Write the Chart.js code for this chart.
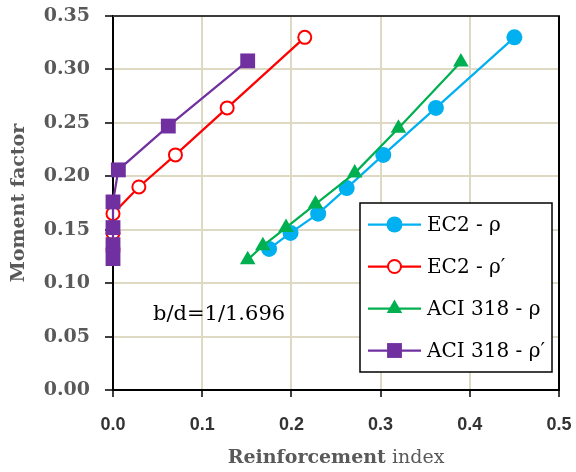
<!DOCTYPE html>
<html><head><meta charset="utf-8">
<script src="https://cdn.jsdelivr.net/npm/chart.js@4/dist/chart.umd.min.js"></script>
<style>html,body{margin:0;padding:0;background:#fff}#wrap{width:576px;height:472px}</style>
</head><body><div id="wrap"><canvas id="c" width="576" height="472"></canvas></div>
<script>
// ---- data ----
const seriesLabels = ['EC2 - ρ', 'EC2 - ρ′', 'ACI 318 - ρ', 'ACI 318 - ρ′'];
const ec2RhoX  = [0.175, 0.199, 0.230, 0.262, 0.303, 0.362, 0.450];
const ec2RhoY  = [0.132, 0.147, 0.165, 0.189, 0.220, 0.264, 0.330];
const ec2RhoPX = [0.000, 0.000, 0.000, 0.029, 0.070, 0.128, 0.215];
const ec2RhoPY = [0.132, 0.147, 0.165, 0.190, 0.220, 0.264, 0.330];
const aciRhoX  = [0.151, 0.168, 0.194, 0.227, 0.271, 0.320, 0.390];
const aciRhoY  = [0.122, 0.135, 0.152, 0.174, 0.203, 0.245, 0.307];
const aciRhoPX = [0.000, 0.000, 0.000, 0.000, 0.006, 0.062, 0.151];
const aciRhoPY = [0.123, 0.136, 0.152, 0.176, 0.206, 0.247, 0.308];
const xTickValues = [0, 0.1, 0.2, 0.3, 0.4, 0.5];
const yTickValues = [0, 0.05, 0.10, 0.15, 0.20, 0.25, 0.30, 0.35];
const noteText = 'b/d=1/1.696';
const xTitleBold = 'Reinforcement';
const xTitleRegular = ' index';
const yTitle = 'Moment factor';

const pts = (xs, ys) => xs.map((x, i) => ({x: x, y: ys[i]}));

const styles = [
  {color:'#00B0F0', fill:'#00B0F0', style:'circle',   radius:8,    bw:0},
  {color:'#FF0000', fill:'#FFFFFF', style:'circle',   radius:6.5,  bw:2},
  {color:'#00B050', fill:'#00B050', style:'triangle', radius:9,    bw:0},
  {color:'#7030A0', fill:'#7030A0', style:'rect',     radius:10.5, bw:0}
];
const seriesData = [pts(ec2RhoX, ec2RhoY), pts(ec2RhoPX, ec2RhoPY), pts(aciRhoX, aciRhoY), pts(aciRhoPX, aciRhoPY)];

const datasets = seriesData.map((d, i) => ({
  label: seriesLabels[i],
  data: d,
  showLine: true,
  borderColor: styles[i].color,
  backgroundColor: styles[i].fill,
  borderWidth: 2.25,
  pointStyle: styles[i].style,
  pointRadius: styles[i].radius,
  pointHoverRadius: styles[i].radius,
  pointBackgroundColor: styles[i].fill,
  pointBorderColor: styles[i].color,
  pointBorderWidth: styles[i].bw,
  order: 4 - i,
  clip: false
}));

const decor = {
  id: 'decor',
  beforeDatasetsDraw(chart) {
    const {ctx, chartArea: a} = chart;
    const xs = chart.scales.x, ys = chart.scales.y;
    ctx.save();
    ctx.lineCap = 'butt';
    // tick marks
    ctx.strokeStyle = '#000'; ctx.lineWidth = 1.5;
    yTickValues.forEach(v => {
      const py = Math.round(ys.getPixelForValue(v));
      ctx.beginPath(); ctx.moveTo(a.left - 8, py); ctx.lineTo(a.left, py); ctx.stroke();
    });
    xTickValues.forEach(v => {
      const px = Math.round(xs.getPixelForValue(v));
      ctx.beginPath(); ctx.moveTo(px, a.bottom); ctx.lineTo(px, a.bottom + 7); ctx.stroke();
    });
    // frame
    ctx.strokeStyle = '#3a3a3a'; ctx.lineWidth = 2;
    ctx.beginPath(); ctx.moveTo(a.left, a.top); ctx.lineTo(a.right + 1, a.top); ctx.stroke();
    ctx.strokeStyle = '#000';
    ctx.beginPath(); ctx.moveTo(a.right, a.top); ctx.lineTo(a.right, a.bottom); ctx.stroke();
    ctx.restore();
  },
  afterDraw(chart) {
    const {ctx, chartArea: a} = chart;
    ctx.save();
    // x title (mixed weight)
    ctx.fillStyle = '#595959';
    ctx.textBaseline = 'alphabetic';
    const fb = 'bold 19px "DejaVu Serif"', fr = '19px "DejaVu Serif"';
    ctx.font = fb; const w1 = ctx.measureText(xTitleBold).width;
    ctx.font = fr; const w2 = ctx.measureText(xTitleRegular).width;
    const cx = (a.left + a.right) / 2;
    let sx = cx - (w1 + w2) / 2;
    ctx.textAlign = 'left';
    ctx.font = fb; ctx.fillText(xTitleBold, sx, 463);
    ctx.font = fr; ctx.fillText(xTitleRegular, sx + w1, 463);
    // y title
    ctx.save();
    ctx.translate(19, (a.top + a.bottom) / 2);
    ctx.rotate(-Math.PI / 2);
    ctx.font = fb; ctx.textAlign = 'center'; ctx.textBaseline = 'middle';
    ctx.fillText(yTitle, 0, 0);
    ctx.restore();
    // note
    ctx.fillStyle = '#000';
    ctx.font = '21px "DejaVu Serif"';
    ctx.textAlign = 'left'; ctx.textBaseline = 'alphabetic';
    ctx.fillText(noteText, 153, 320);
    // legend
    const L = {x: 360, y: 203, w: 192, h: 169};
    ctx.fillStyle = '#fff';
    ctx.fillRect(L.x, L.y, L.w, L.h);
    ctx.strokeStyle = '#000'; ctx.lineWidth = 1.5;
    ctx.strokeRect(L.x, L.y, L.w, L.h);
    chart.data.datasets.forEach((ds, i) => {
      const s = styles[i];
      const y = 224.5 + i * 42;
      ctx.strokeStyle = s.color; ctx.lineWidth = 2.25;
      ctx.beginPath(); ctx.moveTo(368, y); ctx.lineTo(421, y); ctx.stroke();
      ctx.fillStyle = s.fill; ctx.strokeStyle = s.color; ctx.lineWidth = s.bw;
      Chart.helpers.drawPoint(ctx, {pointStyle: s.style, radius: s.radius, rotation: 0, borderWidth: s.bw}, 394.5, y);
      ctx.fillStyle = '#000';
      ctx.font = '20px "DejaVu Serif"';
      ctx.textAlign = 'left'; ctx.textBaseline = 'middle';
      ctx.fillText(ds.label, 427, y + 1);
    });
    ctx.restore();
  }
};

new Chart(document.getElementById('c'), {
  type: 'scatter',
  data: {datasets: datasets},
  options: {
    responsive: false,
    animation: false,
    devicePixelRatio: 1,
    layout: {padding: {left: 0, top: 16, right: 17, bottom: 0}},
    plugins: {legend: {display: false}, tooltip: {enabled: false}},
    events: [],
    scales: {
      x: {
        type: 'linear', min: 0, max: 0.5,
        afterBuildTicks: (s) => { s.ticks = xTickValues.map(v => ({value: v})); },
        afterFit: (s) => { s.height = 82; },
        grid: {color: '#DDD9C3', lineWidth: 2, tickLength: 24, tickColor: 'rgba(0,0,0,0)'},
        border: {display: true, color: '#000', width: 2},
        ticks: {color: '#333333', padding: 0, maxRotation: 0,
                font: {family: '"Liberation Sans"', size: 18, weight: 'bold'},
                callback: (v) => Number(v).toFixed(1)}
      },
      y: {
        type: 'linear', min: 0, max: 0.35,
        afterBuildTicks: (s) => { s.ticks = yTickValues.map(v => ({value: v})); },
        afterFit: (s) => { s.width = 113; },
        grid: {color: '#DDD9C3', lineWidth: 2, tickLength: 21, tickColor: 'rgba(0,0,0,0)'},
        border: {display: true, color: '#000', width: 2},
        ticks: {color: '#595959', padding: 2,
                font: {family: '"DejaVu Serif"', size: 19, weight: 'bold'},
                callback: (v) => Number(v).toFixed(2)}
      }
    }
  },
  plugins: [decor]
});
</script>
</body></html>
